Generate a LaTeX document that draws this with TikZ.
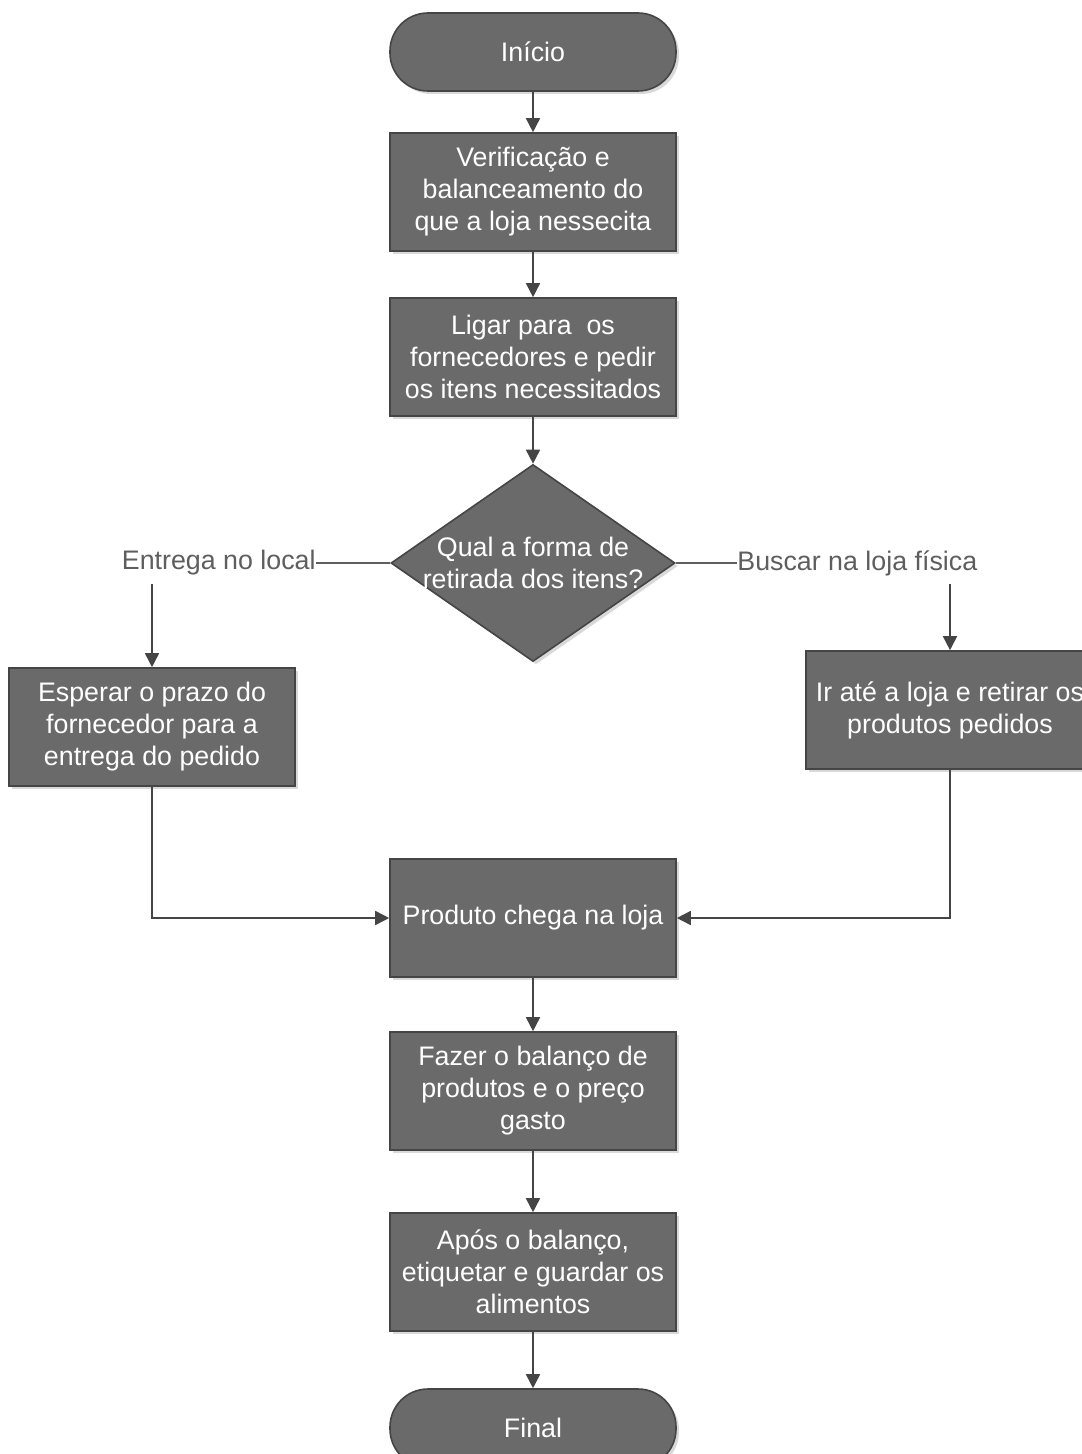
\documentclass[tikz,border=0pt]{standalone}
\usepackage{fontspec}
\setmainfont{Liberation Sans}
\usetikzlibrary{arrows.meta,shapes.geometric,shadows}
\definecolor{boxgray}{HTML}{6A6A6A}
\definecolor{edgegray}{HTML}{454545}
\definecolor{labelgray}{HTML}{5E5E5E}
\tikzset{
  stepbox/.style={rectangle, fill=boxgray, draw=edgegray, line width=0.8pt,
    text=white, align=center, inner sep=2pt,
    minimum width=143pt, minimum height=59pt,
    font=\fontsize{13.4}{16}\selectfont,
    drop shadow={opacity=0.3, shadow xshift=1.5pt, shadow yshift=-1.5pt}},
  termbox/.style={stepbox, rounded corners=19pt, minimum height=39pt},
  choice/.style={stepbox, diamond, aspect=1.44, inner sep=-4pt,
    minimum width=142pt, minimum height=98.5pt},
  answer/.style={inner sep=0pt, text=labelgray, font=\fontsize{13.4}{16}\selectfont},
  flow/.style={draw=edgegray, line width=0.8pt, -{Triangle[width=7pt,length=7pt]}},
  link/.style={draw=labelgray, line width=0.6pt}
}
\begin{document}
\begin{tikzpicture}[x=0.5pt,y=-0.5pt]
\useasboundingbox (0,0) rectangle (1081,1454);

% main column
\node[termbox] (inicio) at (533,52) {Início};
\node[stepbox] (verif) at (533,192) {Verificação e\\balanceamento do\\que a loja nessecita};
\node[stepbox] (ligar) at (533,357) {Ligar para~ os\\fornecedores e pedir\\os itens necessitados};
\node[choice] (forma) at (533,563) {Qual a forma de\\retirada dos itens?};

% the two ways
\node[answer, anchor=east] (entrega) at (316,563) {Entrega no local};
\node[answer, anchor=west] (buscar) at (737,563) {Buscar na loja física};
\node[stepbox] (esperar) at (152,727) {Esperar o prazo do\\fornecedor para a\\entrega do pedido};
\node[stepbox, minimum width=144pt] (ir) at (950,710) {Ir até a loja e retirar os\\produtos pedidos};

\node[stepbox] (produto) at (533,918) {Produto chega na loja};
\node[stepbox] (fazer) at (533,1091) {Fazer o balanço de\\produtos e o preço\\gasto};
\node[stepbox] (apos) at (533,1272) {Após o balanço,\\etiquetar e guardar os\\alimentos};
\node[termbox] (final) at (533,1428) {Final};

\draw[flow] (inicio) -- (verif);
\draw[flow] (verif) -- (ligar);
\draw[flow] (ligar) -- (forma);

\draw[link] (forma.west) -- (forma.west -| entrega.east);
\draw[link] (forma.east) -- (forma.east -| buscar.west);
\draw[flow] ([yshift=-4pt]entrega.south -| esperar.north) -- (esperar.north);
\draw[flow] ([yshift=-4pt]buscar.south -| ir.north) -- (ir.north);

\draw[flow] (esperar.south) |- (produto.west);
\draw[flow] (ir.south) |- (produto.east);

\draw[flow] (produto) -- (fazer);
\draw[flow] (fazer) -- (apos);
\draw[flow] (apos) -- (final);
\end{tikzpicture}
\end{document}
